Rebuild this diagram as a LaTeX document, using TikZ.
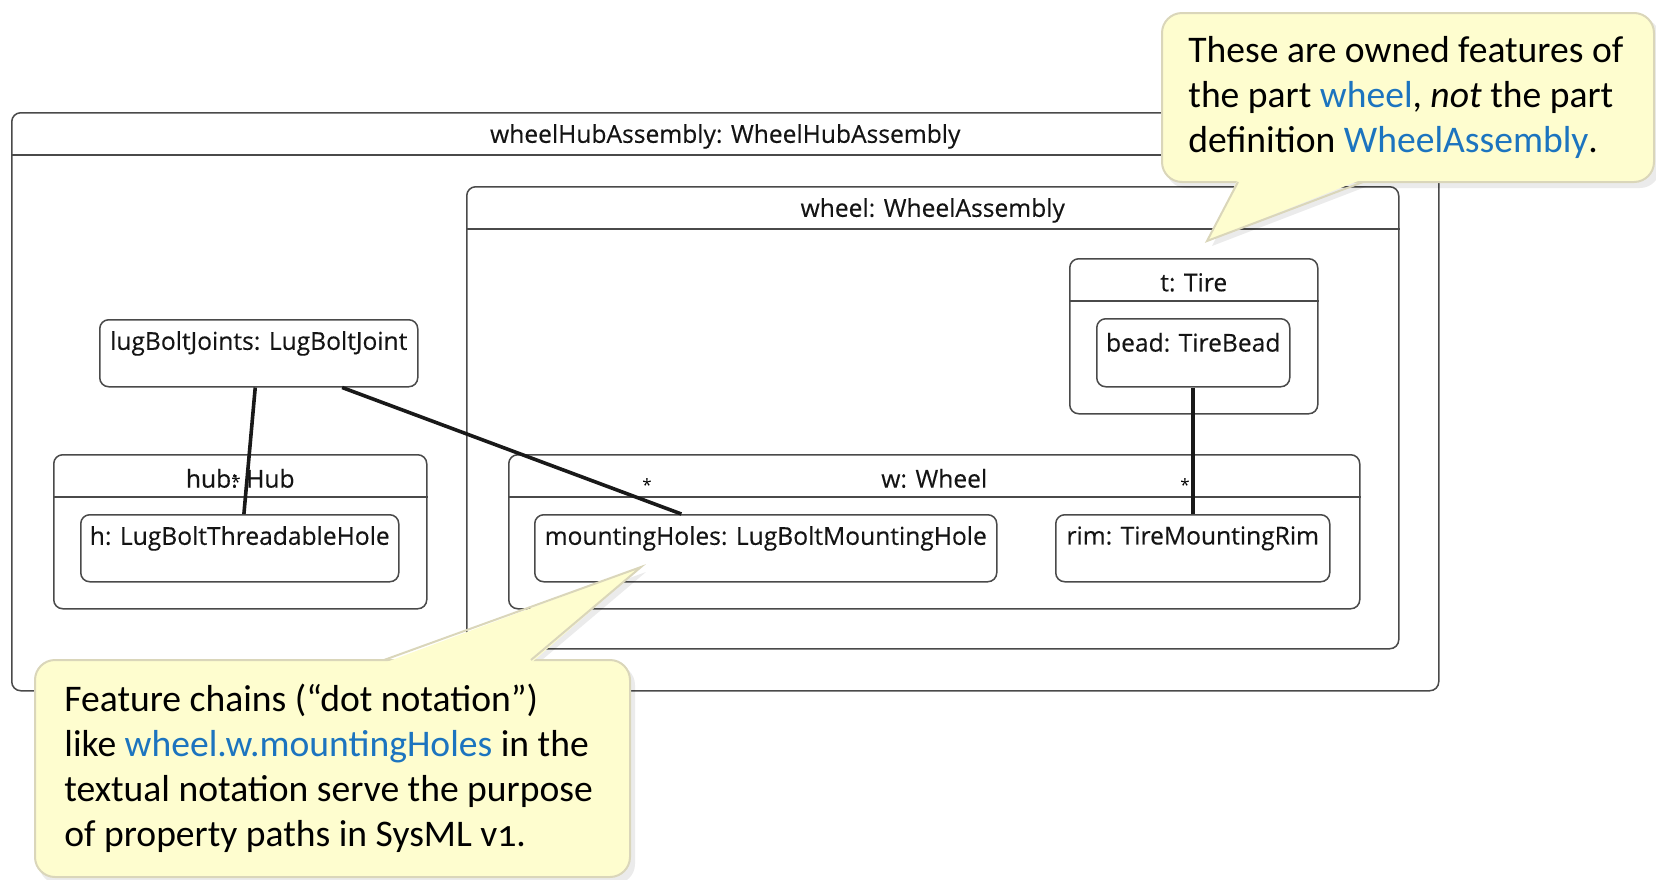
\documentclass[tikz,border=0pt]{standalone}
\usepackage{fontspec}
\setmainfont{Open Sans}
\newfontfamily\partfont[FakeBold=0.35]{Open Sans}
\newfontfamily\notefont[Numbers=OldStyle]{Carlito}
\usetikzlibrary{calc}

\definecolor{notefill}{HTML}{FEFDCF}
\definecolor{noteline}{HTML}{DAD6BA}
\definecolor{noteblue}{HTML}{1C74BF}
\definecolor{frameline}{HTML}{4A4A4A}

\tikzset{
  partbox/.style={draw=frameline, line width=0.75pt, rounded corners=4.5pt,
    inner sep=0pt, anchor=north west},
  parttitle/.style={font=\partfont\fontsize{12.3}{14}\selectfont, inner sep=0pt, text=black!92},
  compline/.style={draw=frameline, line width=0.75pt},
  mult/.style={font=\fontsize{8.5}{8.5}\selectfont, inner sep=0pt},
  link/.style={line width=1.8pt, black!90},
  notebody/.style={fill=notefill, draw=noteline, line width=1pt, rounded corners=10pt},
  noteshadow/.style={fill=black, opacity=0.08, rounded corners=10pt},
  notetext/.style={font=\notefont\fontsize{18.8}{22.5}\selectfont, align=left,
    anchor=base west, inner sep=0pt},
}

% #1 name, #2-#5 corners in px, #6 title
\newcommand{\partnode}[6]{%
  \node[partbox, minimum width={(#4-#2)*0.5pt}, minimum height={(#5-#3)*0.5pt}]
    (#1) at (#2,#3) {};
  \node[parttitle] (#1-title) at ([yshift=-12.2pt]#1.north) {#6};
}
% part with a title compartment
\newcommand{\compnode}[6]{%
  \partnode{#1}{#2}{#3}{#4}{#5}{#6}
  \draw[compline] ([yshift=-21.5pt]#1.north west) -- ([yshift=-21.5pt]#1.north east);
}

\begin{document}
\begin{tikzpicture}[x=0.5pt, y=-0.5pt]
\useasboundingbox (0,0) rectangle (1656,879);

% containment structure
\compnode{assembly}{11}{112}{1438}{690}{wheelHubAssembly: WheelHubAssembly}
\compnode{wheel}{466}{186}{1398}{648}{wheel: WheelAssembly}
\partnode{lug}{99}{319}{417}{386}{lugBoltJoints: LugBoltJoint}
\compnode{hub}{53}{454}{426}{608}{hub: Hub}
\partnode{hole}{80}{514}{398}{581}{h: LugBoltThreadableHole}
\compnode{w}{508}{454}{1359}{608}{w: Wheel}
\partnode{mh}{534}{514}{996}{581}{mountingHoles: LugBoltMountingHole}
\partnode{rim}{1055}{514}{1329}{581}{rim: TireMountingRim}
\compnode{tire}{1069}{258}{1317}{413}{t: Tire}
\partnode{bead}{1096}{318}{1289}{386}{bead: TireBead}

% connections
\draw[link] ($(lug.south west)!0.489!(lug.south east)$) -- ($(hole.north west)!0.513!(hole.north east)$);
\draw[link] ($(lug.south west)!0.761!(lug.south east)$) -- ($(mh.north west)!0.318!(mh.north east)$);
\draw[link] (bead.south) -- (bead.south |- rim.north);

% multiplicities
\node[mult] (m1) at (236,482) {*};
\node[mult] (m2) at (647,485) {*};
\node[mult] (m3) at (1185,485) {*};

% note on owned features
\fill[noteshadow] (1166,18) rectangle (1660,188);
\fill[black, opacity=0.08] (1243,186) -- (1212,246) -- (1368,186) -- cycle;
\draw[notebody] (1162,13) rectangle (1654,182);
\fill[notefill] (1238,179) -- (1207,241) -- (1363,179) -- cycle;
\draw[noteline, line width=1pt] (1238,182) -- (1207,241) -- (1363,182);
\node[notetext] (note1) at (1188,152)
  {These are owned features of\\
   the part \textcolor{noteblue}{wheel}, \textit{not} the part\\
   definition \textcolor{noteblue}{WheelAssembly}.};

% note on feature chains
\fill[noteshadow] (39,665) rectangle (635,884);
\fill[black, opacity=0.08] (389,665) -- (646,572) -- (536,665) -- cycle;
\draw[notebody] (35,660) rectangle (630,877);
\fill[notefill] (384,663) -- (641,567) -- (531,663) -- cycle;
\draw[noteline, line width=1pt] (384,660) -- (641,567) -- (531,660);
\node[notetext] (note2) at (64,846)
  {Feature chains (“dot notation”)\\
   like \textcolor{noteblue}{wheel.w.mountingHoles} in the\\
   textual notation serve the purpose\\
   of property paths in SysML v1.};
\end{tikzpicture}
\end{document}
